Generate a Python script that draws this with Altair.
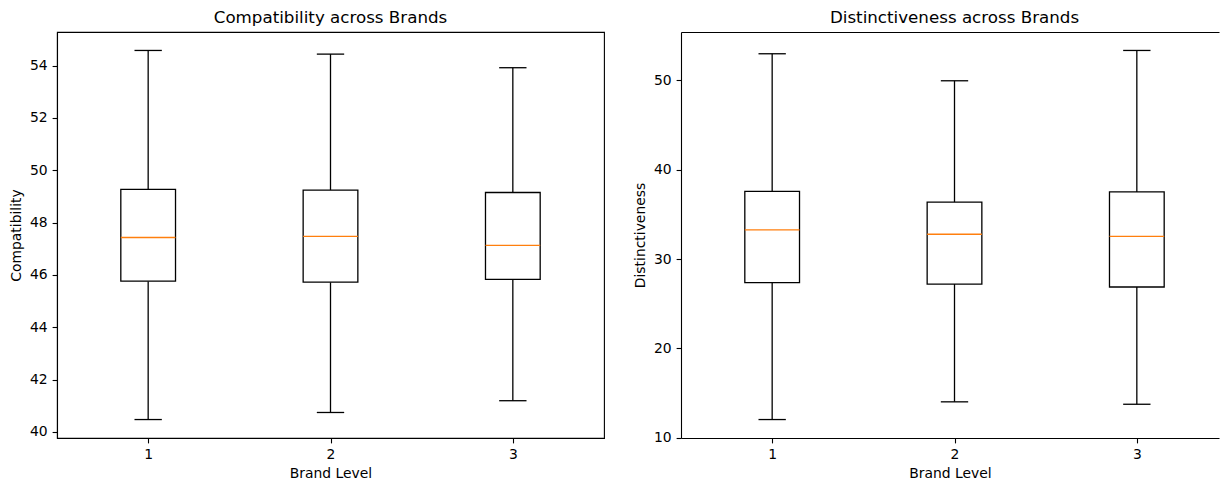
import altair as alt
import pandas as pd

# ---- data ----
brands = [1, 2, 3]

comp_min = [40.47, 40.74, 41.19]
comp_q1 = [45.76, 45.72, 45.83]
comp_med = [47.43, 47.47, 47.13]
comp_q3 = [49.27, 49.24, 49.15]
comp_max = [54.58, 54.44, 53.92]

dist_min = [12.05, 14.03, 13.76]
dist_q1 = [27.35, 27.20, 26.87]
dist_med = [33.25, 32.77, 32.54]
dist_q3 = [37.57, 36.35, 37.50]
dist_max = [52.95, 49.93, 53.32]

comp_ticks = [40, 42, 44, 46, 48, 50, 52, 54]
dist_ticks = [10, 20, 30, 40, 50]

FONT = "DejaVu Sans"
FULL_W = 547          # full plot width of a panel
RIGHT_W = 538         # visible part of the right panel (the reference is cropped)
H = 406
SPACING = 77


def frame(mins, q1, med, q3, maxs):
    return pd.DataFrame({"brand": brands, "lo_w": mins, "q1": q1, "med": med, "q3": q3, "hi_w": maxs})


def auto_domain(mins, maxs):
    lo, hi = min(mins), max(maxs)
    m = 0.05 * (hi - lo)
    return [lo - m, hi + m]


def panel(df, title, ytitle, ticks, ydomain, width, cropped):
    base = alt.Chart(df).transform_calculate(
        bl="datum.brand - 0.15", br="datum.brand + 0.15",
        cl="datum.brand - 0.075", cr="datum.brand + 0.075",
    )
    xmax = 0.5 + 3.0 * width / FULL_W
    xs = alt.Scale(domain=[0.5, xmax], nice=False, zero=False)
    ys = alt.Scale(domain=ydomain, nice=False, zero=False)
    xaxis = alt.Axis(values=[1, 2, 3], format="d", title="Brand Level", grid=False,
                     labelFlush=False, titlePadding=5)
    yaxis = alt.Axis(values=ticks, format="d", title=ytitle, grid=False,
                     labelFlush=False, titlePadding=6)
    topaxis = alt.Axis(orient="top", title="", labels=False, ticks=False, grid=False,
                       domain=True)

    def X(f, ax):
        return alt.X(f, scale=xs, axis=ax)

    def Y(f, ax):
        return alt.Y(f, scale=ys, axis=ax)

    whisk_lo = base.mark_rule(color="black", strokeWidth=1.3).encode(
        x=X("brand:Q", xaxis), y=Y("lo_w:Q", yaxis), y2="q1:Q",
    )
    whisk_hi = base.mark_rule(color="black", strokeWidth=1.3).encode(
        x=X("brand:Q", topaxis if cropped else None), y=Y("q3:Q", None), y2="hi_w:Q",
    )
    cap_lo = base.mark_rule(color="black", strokeWidth=1.3).encode(
        x=X("cl:Q", None), x2="cr:Q", y=Y("lo_w:Q", None),
    )
    cap_hi = base.mark_rule(color="black", strokeWidth=1.3).encode(
        x=X("cl:Q", None), x2="cr:Q", y=Y("hi_w:Q", None),
    )
    box = base.mark_rect(fill="white", stroke="black", strokeWidth=1.3).encode(
        x=X("bl:Q", None), x2="br:Q", y=Y("q1:Q", None), y2="q3:Q",
    )
    median = base.mark_rule(color="#ff7f0e", strokeWidth=1.3).encode(
        x=X("bl:Q", None), x2="br:Q", y=Y("med:Q", None),
    )
    dx = (FULL_W - width) / 2.0
    props = dict(width=width, height=H,
                 title=alt.TitleParams(text=title, dx=dx) if dx else title)
    if cropped:
        props["view"] = alt.ViewBackground(stroke="transparent")
    return (
        alt.layer(whisk_lo, whisk_hi, cap_lo, cap_hi, box, median)
        .resolve_axis(x="independent", y="independent")
        .properties(**props)
    )


comp_df = frame(comp_min, comp_q1, comp_med, comp_q3, comp_max)
dist_df = frame(dist_min, dist_q1, dist_med, dist_q3, dist_max)

left = panel(comp_df, "Compatibility across Brands", "Compatibility", comp_ticks,
             auto_domain(comp_min, comp_max), FULL_W, False)
right = panel(dist_df, "Distinctiveness across Brands", "Distinctiveness", dist_ticks,
              auto_domain(dist_min, dist_max), RIGHT_W, True)

chart = (
    alt.hconcat(left, right, spacing=SPACING, bounds="flush")
    .properties(padding={"left": 8, "top": 9, "right": 0, "bottom": 0}, background="white")
    .configure_view(stroke="black", strokeWidth=1.1)
    .configure_axis(
        labelFont=FONT, labelFontSize=13.9, labelColor="black",
        titleFont=FONT, titleFontSize=13.9, titleFontWeight="normal", titleColor="black",
        tickColor="black", tickSize=4.9, tickWidth=1.1, labelPadding=4.9,
        domainColor="black", domainWidth=1.1,
    )
    .configure_title(font=FONT, fontSize=16.7, fontWeight="normal", color="black", offset=5)
)

chart.save("out.html", embed_options={"renderer": "svg", "actions": False})
